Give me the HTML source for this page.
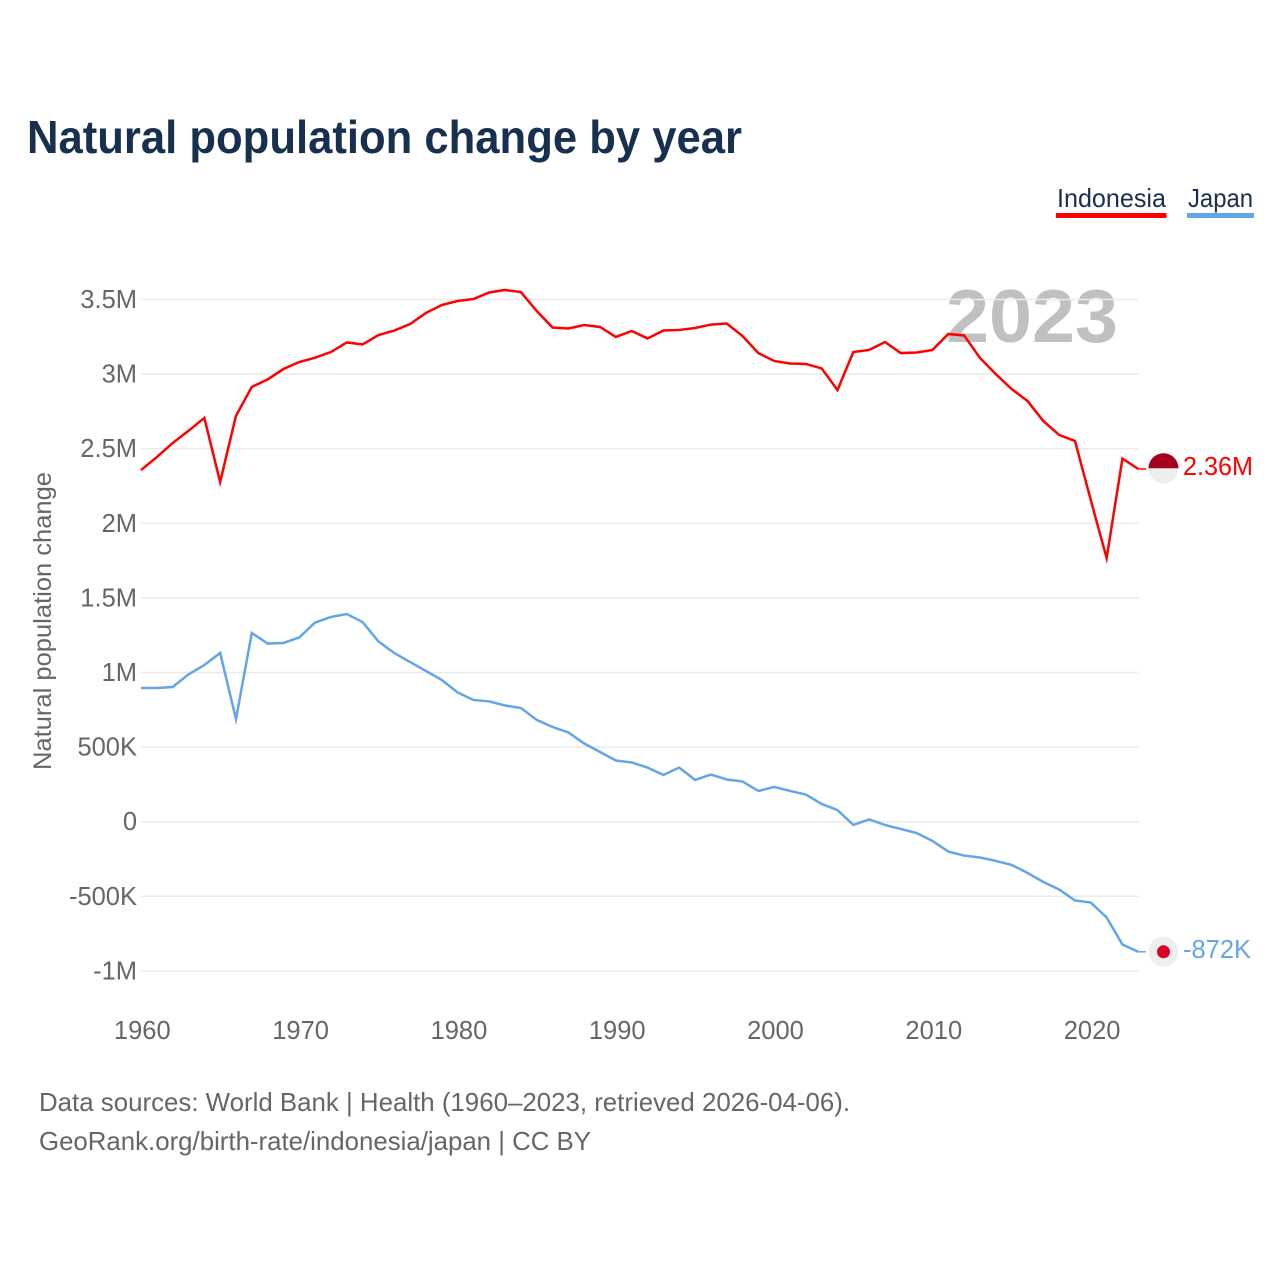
<!DOCTYPE html>
<html lang="en">
<head>
<meta charset="utf-8">
<title>Natural population change by year</title>
<style>
html,body{margin:0;padding:0;background:#fff;}
body{width:1280px;height:1280px;overflow:hidden;}
svg{display:block;font-family:"Liberation Sans",sans-serif;}
</style>
</head>
<body>
<svg id="chart" width="1280" height="1280" viewBox="0 0 1280 1280" xmlns="http://www.w3.org/2000/svg">
  <text x="27" y="153" font-size="46" font-weight="700" fill="#18304f" textLength="715" lengthAdjust="spacingAndGlyphs">Natural population change by year</text>

  <g style="cursor:pointer">
    <text x="1057" y="207" font-size="26" fill="#18304f" textLength="109" lengthAdjust="spacingAndGlyphs">Indonesia</text>
    <rect x="1056" y="213" width="110.500" height="5" fill="#ff0000"></rect>
  </g>
  <g style="cursor:pointer">
    <text x="1188" y="207" font-size="26" fill="#18304f" textLength="65" lengthAdjust="spacingAndGlyphs">Japan</text>
    <rect x="1187" y="213" width="67" height="5" fill="#62a6e8"></rect>
  </g>

  <text x="946" y="342" font-size="75" font-weight="700" fill="#c0c0c0" textLength="172" lengthAdjust="spacingAndGlyphs">2023</text>

  <g id="grid"></g>
  <g id="y-axis"></g>
  <g id="x-axis"></g>

  <text transform="translate(51 770) rotate(-90)" font-size="25" fill="#666666" textLength="298" lengthAdjust="spacingAndGlyphs">Natural population change</text>

  <g id="series"></g>
  <g id="end-markers"></g>

  <text x="39" y="1111" font-size="26" fill="#666666" textLength="811" lengthAdjust="spacingAndGlyphs">Data sources: World Bank | Health (1960–2023, retrieved 2026-04-06).</text>
  <text x="39" y="1150" font-size="26" fill="#666666" textLength="552" lengthAdjust="spacingAndGlyphs">GeoRank.org/birth-rate/indonesia/japan | CC BY</text>
</svg>
<script>
const startYear = 1960;
const xTickYears = [1960, 1970, 1980, 1990, 2000, 2010, 2020];
const yTickValues = [3500, 3000, 2500, 2000, 1500, 1000, 500, 0, -500, -1000];
const yTickLabels = ['3.5M', '3M', '2.5M', '2M', '1.5M', '1M', '500K', '0', '-500K', '-1M'];
const indonesiaValues = [2357, 2444, 2538, 2620, 2706, 2277, 2720, 2914, 2964, 3034, 3081, 3110, 3148, 3212, 3199, 3262, 3292, 3336, 3410, 3463, 3490, 3503, 3547, 3564, 3550, 3423, 3312, 3306, 3329, 3316, 3249, 3289, 3239, 3292, 3296, 3309, 3332, 3339, 3255, 3141, 3088, 3071, 3068, 3038, 2893, 3148, 3162, 3215, 3141, 3145, 3162, 3269, 3259, 3108, 3000, 2900, 2820, 2686, 2592, 2552, 2156, 1767, 2434, 2364];
const japanValues = [896, 896, 903, 987, 1050, 1131, 688, 1265, 1194, 1198, 1235, 1335, 1372, 1392, 1338, 1208, 1131, 1070, 1010, 950, 866, 816, 806, 779, 762, 682, 635, 598, 524, 467, 410, 397, 363, 313, 363, 280, 316, 283, 269, 206, 233, 206, 182, 119, 78, -22, 15, -22, -49, -76, -129, -200, -227, -240, -263, -290, -343, -404, -454, -528, -542, -642, -823, -872];
const indonesiaEndLabel = '2.36M';
const japanEndLabel = '-872K';

const SVG_NS = 'http://www.w3.org/2000/svg';
const xScale = function (year) { return 141 + (year - 1960) * 15.83; };
const yScale = function (value) { return 821.7 - value * 0.1492; };
const gridGroup = document.getElementById('grid');
const yAxisGroup = document.getElementById('y-axis');
const xAxisGroup = document.getElementById('x-axis');
const seriesGroup = document.getElementById('series');
const markerGroup = document.getElementById('end-markers');

function make(tag, parent, attrs) {
  const el = document.createElementNS(SVG_NS, tag);
  Object.keys(attrs).forEach(function (k) { el.setAttribute(k, attrs[k]); });
  parent.appendChild(el);
  return el;
}

yTickValues.forEach(function (value, i) {
  const y = yScale(value);
  const line = make('line', gridGroup, { x1: 141, x2: 1138.5, y1: y, y2: y, stroke: '#ebebeb', 'stroke-width': 1.5 });
  
  
  const label = make('text', yAxisGroup, { x: 137, y: y + 8.5, 'text-anchor': 'end', 'font-size': 25.5, fill: '#666666' });
  
  
  label.textContent = yTickLabels[i];
});

xTickYears.forEach(function (year) {
  const label = make('text', xAxisGroup, { x: xScale(year) + 1.3, y: 1039, 'text-anchor': 'middle', 'font-size': 25.5, fill: '#666666' });
  
  
  label.textContent = String(year);
});

function linePoints(values) {
  return values.map(function (v, i) {
    return xScale(startYear + i).toFixed(2) + ',' + yScale(v).toFixed(2);
  }).join(' ');
}

function drawSeries(values, color) {
  const line = make('polyline', seriesGroup, { points: linePoints(values), fill: 'none', stroke: color, 'stroke-width': 2.5, 'stroke-linejoin': 'miter', 'stroke-miterlimit': 6 });
  
  
  const endX = xScale(startYear + values.length - 1);
  const endY = yScale(values[values.length - 1]);
  const stub = make('line', markerGroup, { x1: endX, x2: 1146, y1: endY, y2: endY, stroke: color, 'stroke-width': 1.5 });
  
  
  return endY;
}

const indonesiaEndY = drawSeries(indonesiaValues, '#ff0000');
const japanEndY = drawSeries(japanValues, '#62a6e8');
const flagIndonesiaY = indonesiaEndY - 0.7;

const idBase = make('circle', markerGroup, { cx: 1163.5, cy: flagIndonesiaY, r: 15, fill: '#eeeeee' });


const idTop = make('path', markerGroup, { d: 'M1148.5 ' + flagIndonesiaY + 'a15 15 0 0 1 30 0z', fill: '#a5001e' });


const idLabel = make('text', markerGroup, { x: 1183, y: indonesiaEndY + 6, 'font-size': 25.5, fill: '#ff0000', textLength: 70, lengthAdjust: 'spacingAndGlyphs' });


idLabel.textContent = indonesiaEndLabel;

const jpBase = make('circle', markerGroup, { cx: 1163.5, cy: japanEndY, r: 15, fill: '#eeeeee' });


const jpDot = make('circle', markerGroup, { cx: 1163.5, cy: japanEndY, r: 6.5, fill: '#dc0028' });


const jpLabel = make('text', markerGroup, { x: 1183, y: japanEndY + 6, 'font-size': 25.5, fill: '#62a6e8', textLength: 68, lengthAdjust: 'spacingAndGlyphs' });


jpLabel.textContent = japanEndLabel;
</script>
</body>
</html>
